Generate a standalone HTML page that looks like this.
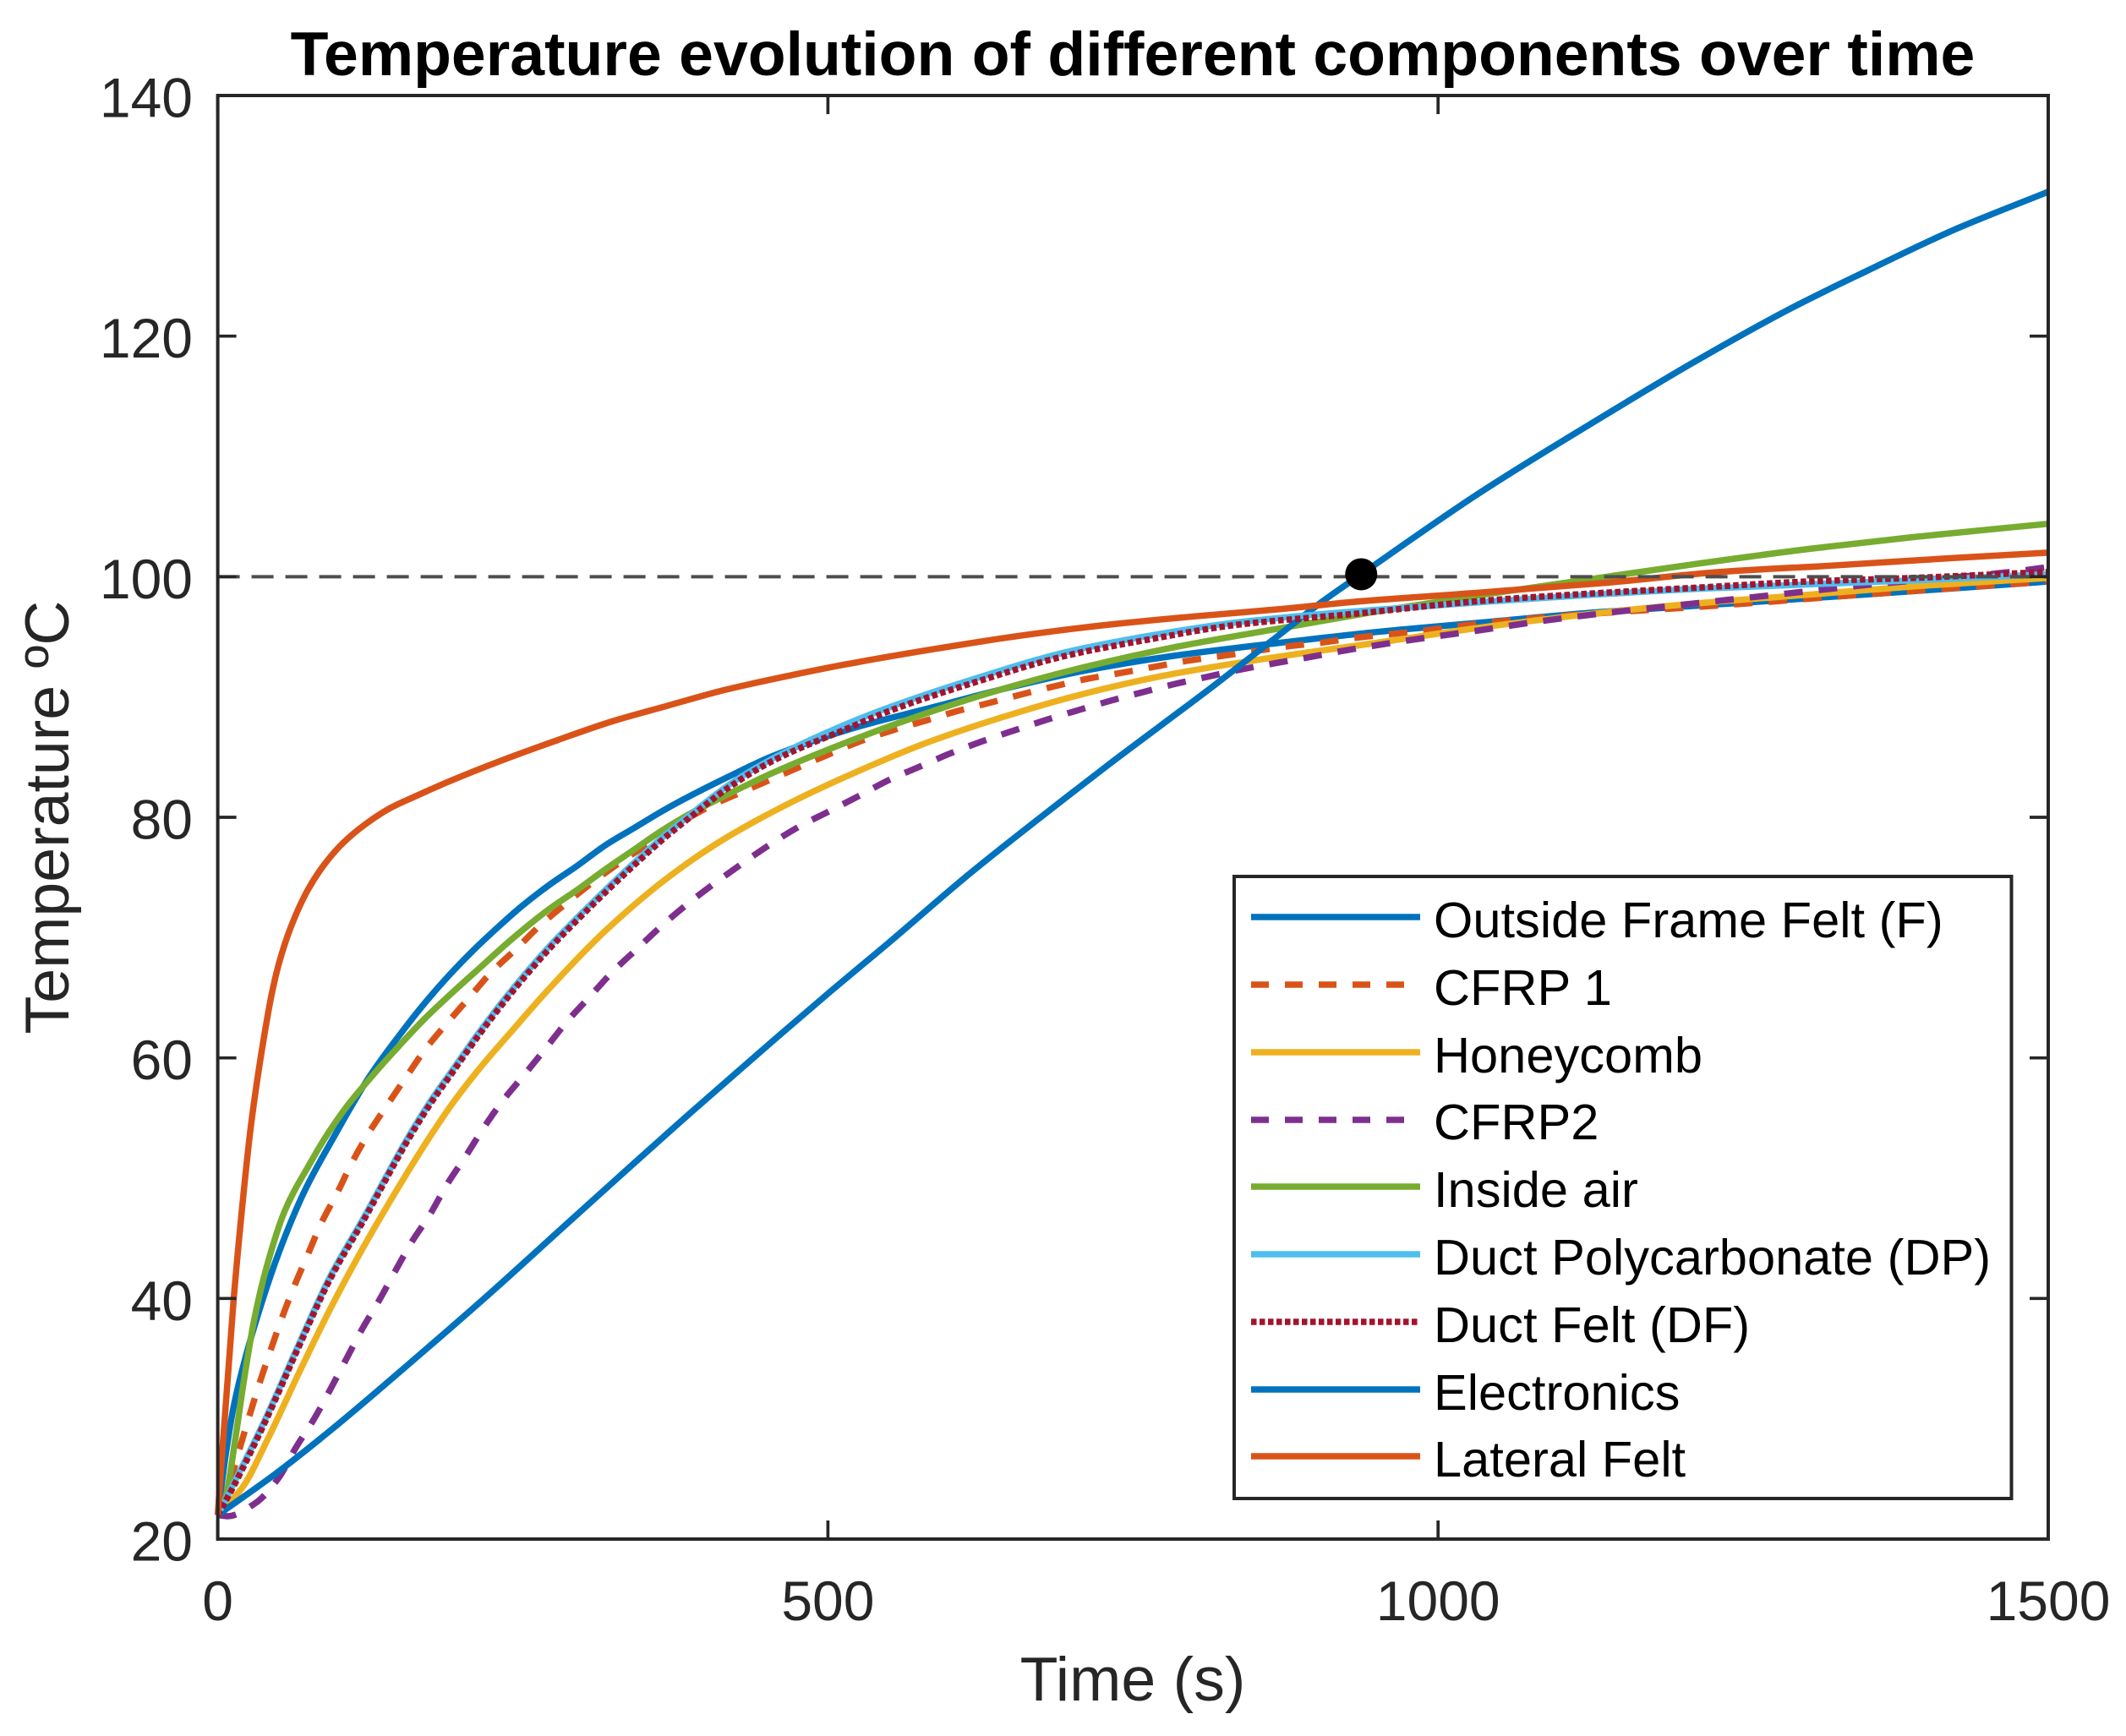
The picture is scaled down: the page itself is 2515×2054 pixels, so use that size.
<!DOCTYPE html>
<html lang="en">
<head>
<meta charset="utf-8">
<title>Temperature evolution of different components over time</title>
<style>
  html, body { margin: 0; padding: 0; background: #fff; }
  svg { display: block; }
  text { font-family: "Liberation Sans", sans-serif; }
</style>
</head>
<body>
<svg id="chart" xmlns="http://www.w3.org/2000/svg" width="2515" height="2054" viewBox="0 0 2515 2054">
  <rect x="0" y="0" width="2515" height="2054" fill="#ffffff"/>
  <g id="series-layer"></g>
  <g id="axes-layer"></g>
  <text x="1340" y="89" text-anchor="middle" font-size="73.4" font-weight="bold" fill="#000000">Temperature evolution of different components over time</text>
  <text x="1340" y="2012" text-anchor="middle" font-size="73.5" fill="#262626">Time (s)</text>
  <text transform="translate(81,967) rotate(-90)" text-anchor="middle" font-size="73.5" fill="#262626">Temperature ºC</text>

  <g>
    <rect x="1460" y="1037" width="919.5" height="736" fill="#ffffff" stroke="#262626" stroke-width="4"/>
    <g>
      <line x1="1480" x2="1680" y1="1085" y2="1085" stroke="#0072BD" stroke-width="7.5"/>
      <text x="1696" y="1109" font-size="59.6" fill="#000">Outside Frame Felt (F)</text>
    </g>
    <g>
      <line x1="1480" x2="1680" y1="1165" y2="1165" stroke="#D95319" stroke-width="7.5" stroke-dasharray="21 19"/>
      <text x="1696" y="1189" font-size="59.6" fill="#000">CFRP 1</text>
    </g>
    <g>
      <line x1="1480" x2="1680" y1="1245" y2="1245" stroke="#EDB120" stroke-width="7.5"/>
      <text x="1696" y="1269" font-size="59.6" fill="#000">Honeycomb</text>
    </g>
    <g>
      <line x1="1480" x2="1680" y1="1325" y2="1325" stroke="#7E2F8E" stroke-width="7.5" stroke-dasharray="21 19"/>
      <text x="1696" y="1348" font-size="59.6" fill="#000">CFRP2</text>
    </g>
    <g>
      <line x1="1480" x2="1680" y1="1404" y2="1404" stroke="#77AC30" stroke-width="7.5"/>
      <text x="1696" y="1428" font-size="59.6" fill="#000">Inside air</text>
    </g>
    <g>
      <line x1="1480" x2="1680" y1="1484" y2="1484" stroke="#4DBEEE" stroke-width="7.5"/>
      <text x="1696" y="1508" font-size="59.6" fill="#000">Duct Polycarbonate (DP)</text>
    </g>
    <g>
      <line x1="1480" x2="1680" y1="1564" y2="1564" stroke="#A2142F" stroke-width="7.5" stroke-dasharray="6.5 3.5"/>
      <text x="1696" y="1588" font-size="59.6" fill="#000">Duct Felt (DF)</text>
    </g>
    <g>
      <line x1="1480" x2="1680" y1="1644" y2="1644" stroke="#0072BD" stroke-width="7.5"/>
      <text x="1696" y="1668" font-size="59.6" fill="#000">Electronics</text>
    </g>
    <g>
      <line x1="1480" x2="1680" y1="1723" y2="1723" stroke="#D95319" stroke-width="7.5"/>
      <text x="1696" y="1747" font-size="59.6" fill="#000">Lateral Felt</text>
    </g>
  </g>
</svg>

<script>
// Axis tick values
const xTickValues = [0, 500, 1000, 1500];
const yTickValues = [20, 40, 60, 80, 100, 120, 140];

// Outside Frame Felt (F)
const outsideFrameTimes = [0, 47, 92, 172, 225, 286, 387, 457, 503, 549, 616, 692, 729, 817, 864, 906, 937, 1033, 1138, 1209, 1289, 1351, 1422, 1500];
const outsideFrameTemps = [22, 25.4, 29, 35.9, 40.6, 46.2, 55.4, 61.6, 65.6, 69.5, 75.3, 81.4, 84.3, 91, 94.7, 98, 100.2, 106.9, 113.5, 117.8, 122.3, 125.4, 128.8, 132];

// CFRP 1
const cfrp1Times = [0, 12, 19, 27, 35, 44, 53, 63, 74, 85, 98, 110, 124, 139, 155, 170, 188, 206, 224, 245, 264, 285, 306, 329, 350, 385, 405, 425, 450, 500, 526, 552, 579, 605, 632, 658, 686, 712, 740, 767, 794, 822, 849, 876, 903, 931, 987, 1042, 1097, 1243, 1347, 1457, 1500];
const cfrp1Temps = [22, 25.4, 27.9, 30.6, 33.2, 35.9, 38.5, 41.1, 43.7, 46.3, 48.8, 51.3, 53.8, 56.1, 58.5, 60.7, 62.9, 65, 67.1, 69.1, 71, 72.8, 74.5, 76.2, 77.6, 79.9, 81, 81.9, 83, 85.2, 86.3, 87.2, 88, 88.8, 89.5, 90.2, 90.9, 91.5, 92, 92.5, 93, 93.4, 93.8, 94.2, 94.5, 94.9, 95.5, 96.2, 96.7, 97.7, 98.5, 99.3, 99.6];

// Honeycomb
const honeycombTimes = [0, 21, 40, 66, 92, 119, 146, 171, 193, 216, 239, 272, 318, 369, 415, 473, 524, 581, 652, 715, 782, 853, 949, 1037, 1125, 1214, 1303, 1390, 1500];
const honeycombTemps = [22, 24.4, 28.1, 33.7, 39.1, 44.2, 48.9, 53, 56.3, 59.3, 62, 65.8, 70.6, 75, 78.2, 81.4, 83.8, 86.2, 88.6, 90.4, 91.9, 93.1, 94.5, 95.8, 96.9, 97.8, 98.5, 99.2, 99.9];

// CFRP2
const cfrp2Times = [0, 8, 31, 50, 64, 79, 92, 105, 118, 132, 145, 159, 174, 188, 203, 218, 234, 252, 268, 286, 305, 323, 344, 364, 385, 407, 429, 452, 476, 501, 524, 550, 575, 600, 626, 652, 679, 705, 732, 758, 785, 812, 839, 866, 894, 920, 975, 1031, 1084, 1139, 1194, 1249, 1304, 1360, 1470, 1500];
const cfrp2Temps = [22, 21.9, 23, 25.1, 27.6, 30, 32.4, 34.9, 37.4, 39.8, 42.2, 44.7, 47, 49.5, 51.8, 54.2, 56.5, 58.7, 60.7, 63, 65.1, 67.1, 69.1, 71, 72.8, 74.5, 76.1, 77.7, 79.2, 80.5, 81.7, 83.1, 84.2, 85.3, 86.3, 87.2, 88.1, 88.9, 89.7, 90.4, 91.1, 91.7, 92.3, 92.8, 93.3, 93.8, 94.7, 95.5, 96.3, 97, 97.6, 98.2, 98.8, 99.4, 100.4, 100.8];

// Inside air
const insideAirTimes = [0, 6.5, 14.5, 21, 30, 40, 55, 76, 87, 106, 124, 145, 170, 193, 216, 239, 272, 295, 318, 341, 364, 387, 408, 455, 517, 588, 641, 711, 782, 870, 949, 1037, 1125, 1214, 1303, 1390, 1500];
const insideAirTemps = [22, 23.5, 28.4, 32.9, 38.3, 42.6, 47.3, 51.3, 53.2, 56, 58.2, 60.6, 63.3, 65.5, 67.6, 69.7, 72.4, 74, 75.7, 77.3, 78.9, 80.3, 81.4, 83.7, 86.3, 88.9, 90.6, 92.5, 94.1, 95.7, 97.1, 98.5, 99.8, 101.1, 102.3, 103.3, 104.4];

// Duct Polycarbonate (DP)
const ductPolyTimes = [0, 13, 40, 66, 92, 119, 156, 175, 191, 214, 239, 272, 295, 318, 341, 364, 387, 419, 455, 514, 552, 623, 694, 764, 835, 930, 1037, 1214, 1390, 1500];
const ductPolyTemps = [22, 24.6, 30.2, 36.1, 41.8, 46.6, 53.4, 56.5, 58.8, 62.1, 65.4, 69.3, 71.7, 74, 76.2, 78.3, 80.2, 82.7, 84.9, 87.7, 89.2, 91.6, 93.7, 95.1, 96.2, 97.1, 97.9, 99, 99.7, 100.2];

// Duct Felt (DF)
const ductFeltTimes = [0, 13, 40, 66, 92, 119, 156, 175, 191, 214, 239, 272, 295, 318, 341, 364, 387, 419, 455, 514, 552, 623, 694, 764, 835, 930, 1037, 1125, 1214, 1303, 1390, 1500];
const ductFeltTemps = [22, 24.4, 30, 35.9, 41.6, 46.4, 53.2, 56.3, 58.6, 61.9, 65.2, 69.1, 71.5, 73.8, 76, 78.1, 80, 82.5, 84.7, 87.3, 88.9, 91.3, 93.4, 94.8, 96, 96.9, 98, 98.6, 99.1, 99.6, 99.9, 100.4];

// Electronics
const electronicsTimes = [0, 6.5, 13, 23, 34, 50, 71, 95, 124, 152, 170, 189, 210, 230, 249, 272, 295, 318, 341, 364, 380, 419, 455, 517, 588, 641, 711, 782, 870, 949, 1037, 1125, 1214, 1303, 1390, 1500];
const electronicsTemps = [22, 27, 31, 35.2, 39, 43.8, 48.9, 53.4, 58.4, 62.3, 64.6, 66.8, 69, 70.9, 72.6, 74.4, 76, 77.7, 79.1, 80.5, 81.4, 83.4, 85.1, 87.3, 89.2, 90.6, 92.2, 93.4, 94.5, 95.4, 96.2, 97, 97.6, 98.2, 98.8, 99.6];

// Lateral Felt
const lateralFeltTimes = [0, 13, 22, 27, 33, 39, 44, 50, 60, 74, 89, 103, 122, 142, 161, 190, 232, 278, 324, 366, 416, 465, 514, 588, 658, 729, 800, 870, 930, 1037, 1138, 1232, 1327, 1422, 1500];
const lateralFeltTemps = [22, 39.9, 49.6, 54.2, 58.6, 62.4, 65.2, 67.8, 70.9, 74, 76.3, 77.9, 79.5, 80.8, 81.7, 83, 84.7, 86.4, 88, 89.2, 90.6, 91.7, 92.7, 94, 95.1, 96, 96.7, 97.3, 97.9, 98.7, 99.5, 100.4, 100.95, 101.55, 102];

// Reference line and crossing marker
const referenceTemp = [100];
const crossingTime = [937];
const crossingTemp = [100.2];

// Axis geometry
const plotLeft = 257.6, plotRight = 2423, plotTop = 113, plotBottom = 1821;
const xMin = 0, xMax = 1500, yMin = 20, yMax = 140;
const NS = 'http://www.w3.org/2000/svg';
const axisColor = '#262626';

function xScale(t) { return plotLeft + (t - xMin) / (xMax - xMin) * (plotRight - plotLeft); }
function yScale(v) { return plotBottom - (v - yMin) / (yMax - yMin) * (plotBottom - plotTop); }

const seriesLayer = document.getElementById('series-layer');
const axesLayer = document.getElementById('axes-layer');

// Monotone cubic path through the mapped data points
function curvePath(times, temps) {
  const xs = times.map(xScale);
  const ys = temps.map(yScale);
  const n = xs.length;
  const slopes = [];
  for (let i = 0; i < n - 1; i++) slopes.push((ys[i + 1] - ys[i]) / (xs[i + 1] - xs[i]));
  const tangents = [slopes[0]];
  for (let i = 1; i < n - 1; i++) {
    if (slopes[i - 1] * slopes[i] <= 0) {
      tangents.push(0);
    } else {
      const a = xs[i] - xs[i - 1];
      const b = xs[i + 1] - xs[i];
      tangents.push(3 * (a + b) / ((2 * b + a) / slopes[i - 1] + (b + 2 * a) / slopes[i]));
    }
  }
  tangents.push(slopes[n - 2]);
  let d = 'M' + xs[0].toFixed(2) + ' ' + ys[0].toFixed(2);
  for (let i = 0; i < n - 1; i++) {
    const h = (xs[i + 1] - xs[i]) / 3;
    d += 'C' + (xs[i] + h).toFixed(2) + ' ' + (ys[i] + tangents[i] * h).toFixed(2) + ' ' +
         (xs[i + 1] - h).toFixed(2) + ' ' + (ys[i + 1] - tangents[i + 1] * h).toFixed(2) + ' ' +
         xs[i + 1].toFixed(2) + ' ' + ys[i + 1].toFixed(2);
  }
  return d;
}

function drawSeries(name, times, temps, color, dash) {
  const el = document.createElementNS(NS, 'path');
  
  
  el.setAttribute('d', curvePath(times, temps));
  el.setAttribute('fill', 'none');
  el.setAttribute('stroke', color);
  el.setAttribute('stroke-width', '7.5');
  el.setAttribute('stroke-linejoin', 'round');
  if (dash) el.setAttribute('stroke-dasharray', dash);
  seriesLayer.appendChild(el);
}

// Draw order follows the stacking seen in the figure
drawSeries('series-electronics', electronicsTimes, electronicsTemps, '#0072BD');
drawSeries('series-cfrp-1', cfrp1Times, cfrp1Temps, '#D95319', '22 19');
drawSeries('series-honeycomb', honeycombTimes, honeycombTemps, '#EDB120');
drawSeries('series-cfrp-2', cfrp2Times, cfrp2Temps, '#7E2F8E', '22 19');
drawSeries('series-inside-air', insideAirTimes, insideAirTemps, '#77AC30');
drawSeries('series-outside-frame-felt', outsideFrameTimes, outsideFrameTemps, '#0072BD');
drawSeries('series-duct-polycarbonate', ductPolyTimes, ductPolyTemps, '#4DBEEE');
drawSeries('series-duct-felt', ductFeltTimes, ductFeltTemps, '#A2142F', '6.5 3.5');
drawSeries('series-lateral-felt', lateralFeltTimes, lateralFeltTemps, '#D95319');

// Reference line at 100 degrees
const refLine = document.createElementNS(NS, 'line');


refLine.setAttribute('x1', xScale(xMin));
refLine.setAttribute('x2', xScale(xMax));
refLine.setAttribute('y1', yScale(referenceTemp[0]));
refLine.setAttribute('y2', yScale(referenceTemp[0]));
refLine.setAttribute('stroke', '#4d4d4d');
refLine.setAttribute('stroke-width', '4');
refLine.setAttribute('stroke-dasharray', '26 14');
seriesLayer.appendChild(refLine);

// Crossing marker
const marker = document.createElementNS(NS, 'circle');


marker.setAttribute('cx', xScale(crossingTime[0]));
marker.setAttribute('cy', yScale(crossingTemp[0]));
marker.setAttribute('r', '19');
marker.setAttribute('fill', '#000000');
seriesLayer.appendChild(marker);

// Axes box
const box = document.createElementNS(NS, 'rect');


box.setAttribute('x', plotLeft);
box.setAttribute('y', plotTop);
box.setAttribute('width', plotRight - plotLeft);
box.setAttribute('height', plotBottom - plotTop);
box.setAttribute('fill', 'none');
box.setAttribute('stroke', axisColor);
box.setAttribute('stroke-width', '4');
axesLayer.appendChild(box);

function addTick(name, x1, y1, x2, y2) {
  const tick = document.createElementNS(NS, 'line');
  
  
  tick.setAttribute('x1', x1);
  tick.setAttribute('y1', y1);
  tick.setAttribute('x2', x2);
  tick.setAttribute('y2', y2);
  tick.setAttribute('stroke', axisColor);
  tick.setAttribute('stroke-width', '3.7');
  axesLayer.appendChild(tick);
}

function addLabel(name, x, y, anchor, value) {
  const label = document.createElementNS(NS, 'text');
  
  
  label.setAttribute('x', x);
  label.setAttribute('y', y);
  label.setAttribute('text-anchor', anchor);
  label.setAttribute('font-size', '66');
  label.setAttribute('fill', axisColor);
  label.textContent = String(value);
  axesLayer.appendChild(label);
}

const tickLength = 22;
xTickValues.forEach(function (v) {
  const x = xScale(v);
  addTick('x-tick-bottom-' + v, x, plotBottom, x, plotBottom - tickLength);
  addTick('x-tick-top-' + v, x, plotTop, x, plotTop + tickLength);
  addLabel('x-tick-label-' + v, x, 1917, 'middle', v);
});
yTickValues.forEach(function (v) {
  const y = yScale(v);
  addTick('y-tick-left-' + v, plotLeft, y, plotLeft + tickLength, y);
  addTick('y-tick-right-' + v, plotRight, y, plotRight - tickLength, y);
  addLabel('y-tick-label-' + v, 228, y + 25.5, 'end', v);
});
</script>
</body>
</html>
